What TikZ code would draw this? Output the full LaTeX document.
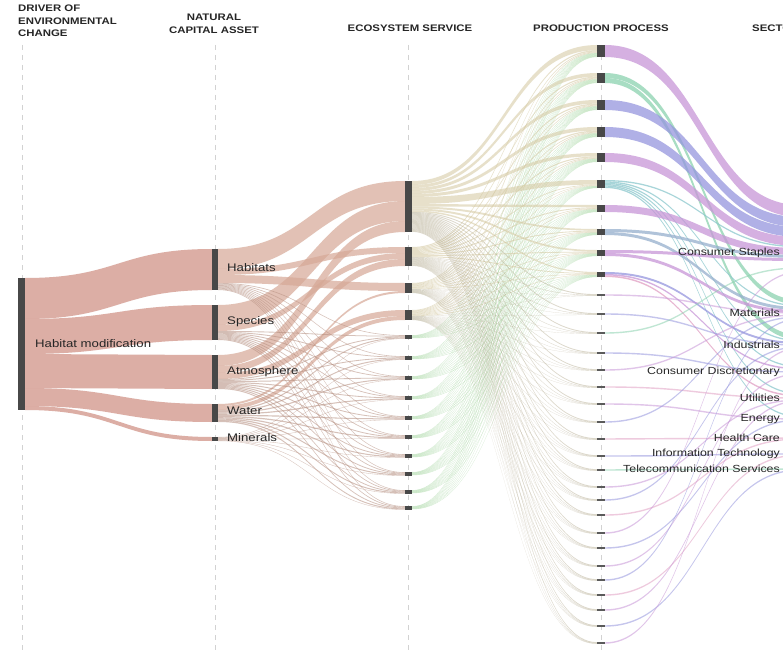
\documentclass[tikz,border=0pt]{standalone}
\usepackage{fontspec}
\setmainfont{Liberation Sans}[FakeStretch=1.2]
\definecolor{barc}{RGB}{72,72,72}
\definecolor{drvc}{RGB}{214,160,150}
\definecolor{ncc}{RGB}{214,168,150}
\definecolor{esA}{RGB}{212,200,160}
\definecolor{esB}{RGB}{165,215,160}
\definecolor{pur}{RGB}{200,150,215}
\definecolor{grn}{RGB}{140,210,175}
\definecolor{blu}{RGB}{150,150,222}
\definecolor{tea}{RGB}{140,200,205}
\definecolor{pnk}{RGB}{225,160,195}
\definecolor{sla}{RGB}{150,175,205}
\newcommand\rib[7]{\fill[#7] (#1,#2) .. controls ({(#1+#4)/2},#2) and ({(#1+#4)/2},#5) .. (#4,#5) -- (#4,#6) .. controls ({(#1+#4)/2},#6) and ({(#1+#4)/2},#3) .. (#1,#3) -- cycle;}
\def\EStop{{181,247,283,310,335.25,356.25,376.25,396.25,416.25,435.25,454.25,472.25,490.25,506.25}}
\def\PPtop{{45,73,100,127,153,180,205,229,250,272}}
\def\PPh{{12,10,10,10,9,8,7,6,6,5}}
\def\Aw{{4,3,3,3,3,7,2.5,2,2,1.5}}
\def\PPc{{295,314,333,353,370,387,404,422,439,456,470,487,500,515,533,548,566,580,595,610,626,643}}
\begin{document}
\begin{tikzpicture}[x=1pt,y=-1pt,
  barn/.style={fill=barc,draw=none,inner sep=0pt,outer sep=0pt},
  colline/.style={draw=gray!35,line width=0.6pt,dash pattern=on 5pt off 5pt},
  hdr/.style={font=\bfseries\fontsize{9.5}{12.5}\selectfont,text=black!85,inner sep=0pt},
  lab/.style={font=\fontsize{11}{12}\selectfont,text=black!85,inner sep=0pt,anchor=west},
  slab/.style={font=\fontsize{10.3}{12}\selectfont,text=black!85,inner sep=0pt,anchor=east},
  f1/.style={fill=drvc,fill opacity=0.85},
  f2/.style={fill=ncc,fill opacity=0.7},
  f2t/.style={fill=ncc!85!black,fill opacity=0.55},
  fp/.style={fill=pur,fill opacity=0.75},
  fg/.style={fill=grn,fill opacity=0.75},
  fb/.style={fill=blu,fill opacity=0.75},
  ft/.style={fill=tea,fill opacity=0.75},
  fk/.style={fill=pnk,fill opacity=0.75},
  fs/.style={fill=sla,fill opacity=0.75}]
\useasboundingbox (0,0) rectangle (783,652);
\fill[white] (0,0) rectangle (783,652);
% column guide lines
\foreach \x in {22,215,408,601}{\draw[colline] (\x,45) -- (\x,652);}
% headers
\node[hdr,anchor=north west,align=left] (h1) at (18,5) {DRIVER OF\\ENVIRONMENTAL\\CHANGE};
\node[hdr,align=center] (h2) at (214,24) {NATURAL\\CAPITAL ASSET};
\node[hdr] (h3) at (410,28) {ECOSYSTEM SERVICE};
\node[hdr] (h4) at (601,28) {PRODUCTION PROCESS};
\node[hdr,anchor=west] (h5) at (752,28) {SECTOR};
% level 1: driver -> natural capital
\rib{25}{278}{319}{212}{249}{290}{f1}
\rib{25}{319}{354}{212}{305}{340}{f1}
\rib{25}{354}{388}{212}{355}{389}{f1}
\rib{25}{388}{406}{212}{404}{422}{f1}
\rib{25}{406}{410}{212}{437}{441}{f1}
% level 2: natural capital -> ecosystem service
\rib{218}{249}{269}{405}{181}{201}{f2}
\rib{218}{305}{325}{405}{201}{221}{f2}
\rib{218}{355}{366}{405}{221}{232}{f2}
\rib{218}{269}{275}{405}{247}{253}{f2}
\rib{218}{325}{331}{405}{253}{259}{f2}
\rib{218}{366}{373}{405}{259}{266}{f2}
\rib{218}{275}{283}{405}{283}{291}{f2}
\rib{218}{404}{406}{405}{291}{293}{f2}
\rib{218}{373}{379}{405}{310}{316}{f2}
\rib{218}{406}{410}{405}{316}{320}{f2}
\foreach \k [count=\m from 0] in {5,...,14}{%
  \pgfmathsetmacro\et{\EStop[\k-1]}%
  \foreach \st/\w/\off in {283/0.7/0,331/0.9/0.58,379/1.0/1.33,410/1.2/2.16,437/0.4/3.16}{%
    \pgfmathsetmacro\ya{\st+\w*\m}%
    \pgfmathsetmacro\yb{\ya+\w}%
    \pgfmathsetmacro\yc{\et+\off}%
    \pgfmathsetmacro\yd{\yc+0.83*\w}%
    \rib{218}{\ya}{\yb}{405}{\yc}{\yd}{f2t}%
  }%
}
% level 3: ecosystem service -> production process
\foreach \i in {1,...,14}{\expandafter\xdef\csname eso\i\endcsname{0}}
\foreach \j in {1,...,10}{%
  \pgfmathsetmacro\aj{\Aw[\j-1]}%
  \pgfmathsetmacro\sj{\PPh[\j-1]/(\aj+5.2)}%
  \pgfmathsetmacro\ptop{\PPtop[\j-1]}%
  \xdef\ppo{0}%
  \foreach \i in {1,...,14}{%
    \pgfmathsetmacro\w{\i==1 ? \aj : (\i==2 ? 1 : (\i<5 ? 0.6 : 0.3))}%
    \edef\cur{\csname eso\i\endcsname}%
    \pgfmathsetmacro\ya{\EStop[\i-1]+\cur}%
    \pgfmathsetmacro\yb{\ya+\w}%
    \pgfmathsetmacro\yc{\ptop+\ppo}%
    \pgfmathsetmacro\yd{\yc+\w*\sj}%
    \pgfmathsetmacro\nw{\cur+\w}%
    \expandafter\xdef\csname eso\i\endcsname{\nw}%
    \pgfmathsetmacro\np{\ppo+\w*\sj}%
    \xdef\ppo{\np}%
    \ifnum\i<5 \def\fc{esA}\else\def\fc{esB}\fi
    \rib{412}{\ya}{\yb}{597}{\yc}{\yd}{fill=\fc,fill opacity=0.55}%
  }%
}
\foreach \k in {1,...,22}{%
  \pgfmathsetmacro\tcy{\PPc[\k-1]}%
  \xdef\ppo{-0.83}%
  \foreach \i/\w in {1/0.9,2/0.4,3/0.18,4/0.18}{%
    \edef\cur{\csname eso\i\endcsname}%
    \pgfmathsetmacro\ya{\EStop[\i-1]+\cur}%
    \pgfmathsetmacro\yb{\ya+\w}%
    \pgfmathsetmacro\yc{\tcy+\ppo}%
    \pgfmathsetmacro\yd{\yc+\w}%
    \pgfmathsetmacro\nw{\cur+\w}%
    \expandafter\xdef\csname eso\i\endcsname{\nw}%
    \pgfmathsetmacro\np{\ppo+\w}%
    \xdef\ppo{\np}%
    \rib{412}{\ya}{\yb}{597}{\yc}{\yd}{fill=esA!80!black,fill opacity=0.4}%
  }%
}
% level 4: production process -> sector
\rib{605}{45}{57}{800}{205}{217}{fp}
\rib{605}{73}{78}{800}{300}{305}{fg}
\rib{605}{78}{83}{800}{335}{340}{fg}
\rib{605}{100}{110}{800}{217}{227}{fb}
\rib{605}{127}{137}{800}{227}{237}{fb}
\rib{605}{153}{162}{800}{237}{246}{fp}
\foreach \n/\t in {0/246,1/305,2/340,3/366,4/393,5/416}{%
  \pgfmathsetmacro\ya{180+1.33*\n}\pgfmathsetmacro\yb{\ya+1.33}%
  \pgfmathsetmacro\yc{\t}\pgfmathsetmacro\yd{\t+1.33}%
  \rib{605}{\ya}{\yb}{800}{\yc}{\yd}{ft}}
\rib{605}{205}{212}{800}{248}{255}{fp}
\rib{605}{229}{232}{800}{255}{258}{fs}
\rib{605}{232}{235}{800}{307}{310}{fs}
\rib{605}{250}{253}{800}{258}{261}{fp}
\rib{605}{253}{256}{800}{310}{313}{fp}
\rib{605}{272}{274}{800}{342}{344}{fb}
\rib{605}{274}{275.5}{800}{368}{369.5}{fp}
\rib{605}{275.5}{277}{800}{395}{396.5}{fk}
\foreach \k/\t/\col in {1/313/pur,2/345/blu,3/268/grn,4/372/blu,5/315/pur,6/398/pnk,7/419/pur,8/317/blu,9/438/pnk,10/454/blu,11/469/grn,12/400/pur,13/347/blu,14/439/pnk,15/272/pur,16/420/blu,17/374/pur,18/319/blu,19/455/pnk,20/401/pur,21/470/blu,22/348/pur}{%
  \pgfmathsetmacro\tcy{\PPc[\k-1]}%
  \pgfmathsetmacro\ya{\tcy-0.7}\pgfmathsetmacro\yb{\tcy+0.7}%
  \pgfmathsetmacro\yc{\t-0.7}\pgfmathsetmacro\yd{\t+0.7}%
  \rib{605}{\ya}{\yb}{800}{\yc}{\yd}{fill=\col,fill opacity=0.55}}
% bars
\node[barn,minimum width=7pt,minimum height=132pt] (drv) at (21.5,344) {};
\node[barn,minimum width=6pt,minimum height=41pt] (hab) at (215,269.5) {};
\node[barn,minimum width=6pt,minimum height=35pt] (spe) at (215,322.5) {};
\node[barn,minimum width=6pt,minimum height=34pt] (atm) at (215,372) {};
\node[barn,minimum width=6pt,minimum height=18pt] (wat) at (215,413) {};
\node[barn,minimum width=6pt,minimum height=4pt] (min) at (215,439) {};
\node[barn,minimum width=7pt,minimum height=51pt] (es1) at (408.5,206.5) {};
\node[barn,minimum width=7pt,minimum height=19pt] (es2) at (408.5,256.5) {};
\node[barn,minimum width=7pt,minimum height=10pt] (es3) at (408.5,288) {};
\node[barn,minimum width=7pt,minimum height=10pt] (es4) at (408.5,315) {};
\foreach \c [count=\n from 5] in {337,358,378,398,418,437,456,474,492,508}
  \node[barn,minimum width=7pt,minimum height=3.5pt] (es\n) at (408.5,\c) {};
\foreach \t/\h [count=\n] in {45/12,73/10,100/10,127/10,153/9,180/8,205/7,229/6,250/6,272/5}{%
  \pgfmathsetmacro\yc{\t+\h/2}%
  \node[barn,minimum width=8pt,minimum height=\h pt] (pp\n) at (601,\yc) {};}
\foreach \c [count=\n from 11] in {295,314,333,353,370,387,404,422,439,456,470,487,500,515,533,548,566,580,595,610,626,643}
  \node[barn,minimum width=8pt,minimum height=2.2pt,fill=barc!90] (pp\n) at (601,\c) {};
% labels
\node[lab] (lhm) at (35,344) {Habitat modification};
\node[lab] (lhab) at (227,268) {Habitats};
\node[lab] (lspe) at (227,322) {Species};
\node[lab] (latm) at (227,372) {Atmosphere};
\node[lab] (lwat) at (227,411) {Water};
\node[lab] (lmin) at (227,438) {Minerals};
\node[slab] (s1) at (780,253) {Consumer Staples};
\node[slab] (s2) at (780,313) {Materials};
\node[slab] (s3) at (780,345) {Industrials};
\node[slab] (s4) at (780,372) {Consumer Discretionary};
\node[slab] (s5) at (780,398) {Utilities};
\node[slab] (s6) at (780,419) {Energy};
\node[slab] (s7) at (780,438) {Health Care};
\node[slab] (s8) at (780,454) {Information Technology};
\node[slab] (s9) at (780,469) {Telecommunication Services};
\end{tikzpicture}
\end{document}
